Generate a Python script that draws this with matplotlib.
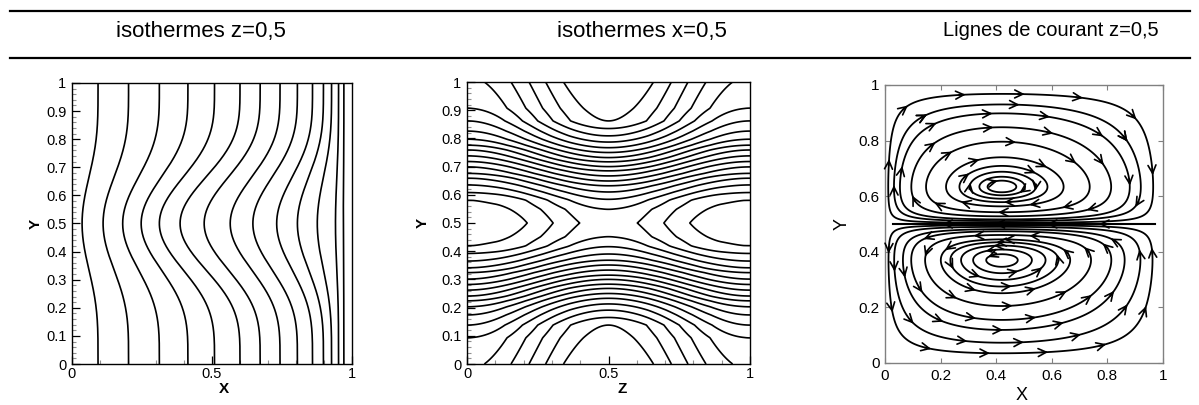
import numpy as np
import matplotlib.pyplot as plt
from matplotlib.lines import Line2D
from matplotlib.ticker import MultipleLocator, FixedLocator

plt.rcParams['font.family'] = ['Liberation Sans', 'DejaVu Sans']

titles = ['isothermes z=0,5', 'isothermes x=0,5', 'Lignes de courant z=0,5']

# isothermes z=0,5 : x of each isotherm on the walls y=0 / y=1 and on the mid-plane y=0.5
iso_z_wall_x = [0.093, 0.202, 0.312, 0.414, 0.509, 0.600, 0.672, 0.743,
                0.805, 0.859, 0.898, 0.927, 0.952, 0.971]
iso_z_mid_x = [0.036, 0.111, 0.181, 0.247, 0.312, 0.386, 0.472, 0.565,
               0.646, 0.731, 0.805, 0.876, 0.941, 0.969]

# isothermes x=0,5 : heights where levels 6..19 cut the wall z=0,
# and where levels 1..16 cut the line z=0.5 (lower half, mirrored above)
iso_x_wall_y = [0.093, 0.138, 0.174, 0.203, 0.224, 0.241, 0.262, 0.282,
                0.301, 0.324, 0.341, 0.365, 0.392, 0.419]
iso_x_mid_y = [0.138, 0.165, 0.191, 0.213, 0.233, 0.250, 0.268, 0.283,
               0.300, 0.315, 0.333, 0.351, 0.368, 0.390, 0.416, 0.451]
iso_x_wall_ends = [5.2, 19.6]     # level on the wall at y=0 and y=0.5
iso_x_mid_ends = [-0.25, 16.5]    # level on z=0.5 at y=0 and y=0.5

# lignes de courant : centres of the two rolls, the line between them,
# and the heights where the drawn streamlines cross x = roll_x (outer side)
roll_x = 0.42
roll_y = [0.37, 0.634]
split_y = 0.5
split_x = [0.03, 0.97]
stream_y_lower = [0.035, 0.073, 0.119, 0.155, 0.205, 0.251, 0.275, 0.299,
                  0.323, 0.346]
stream_y_upper = [0.968, 0.930, 0.898, 0.848, 0.796, 0.740, 0.709, 0.688,
                  0.670, 0.656]


fig = plt.figure(figsize=(11.99, 4.05), dpi=100)
W, H = 1199.0, 405.0


def px_axes(l, t, r, b):
    return fig.add_axes([l / W, 1 - b / H, (r - l) / W, (b - t) / H])


# header of the table
for yl in (11, 58):
    fig.add_artist(Line2D([10 / W, 1190 / W], [1 - yl / H, 1 - yl / H],
                          color='k', lw=1.6, transform=fig.transFigure))
for xc, t, fs in zip((201, 642, 1051), titles, (16, 16, 14.5)):
    fig.text(xc / W, 1 - 31 / H, t, ha='center', va='center', fontsize=fs)


def tecplot_axes(ax, xlabel, xlab_x):
    ax.set_xlim(0, 1)
    ax.set_ylim(0, 1)
    ax.xaxis.set_major_locator(FixedLocator([0, 0.5, 1]))
    ax.xaxis.set_major_formatter(plt.FuncFormatter(lambda v, p: '%g' % v))
    ax.xaxis.set_minor_locator(MultipleLocator(0.1))
    ax.yaxis.set_major_locator(MultipleLocator(0.1))
    ax.yaxis.set_major_formatter(plt.FuncFormatter(lambda v, p: '%g' % v))
    ax.yaxis.set_minor_locator(MultipleLocator(0.02))
    ax.tick_params(which='major', direction='in', length=6, width=0.9,
                   labelsize=10.5, pad=2)
    ax.tick_params(axis='y', which='major', pad=4)
    ax.tick_params(which='minor', direction='in', length=3, width=0.8,
                   color='#909090')
    for s in ax.spines.values():
        s.set_linewidth(1.0)
    ax.set_xlabel(xlabel, fontsize=11, fontweight='bold')
    ax.set_ylabel('Y', fontsize=11, fontweight='bold')
    ax.xaxis.set_label_coords(xlab_x, -0.065)


# ---- isothermes z=0,5
ax1 = px_axes(72, 83, 352, 364)
ys = np.linspace(0, 1, 300)
bend = np.sin(np.pi * ys) ** 4
for xw, xm in zip(iso_z_wall_x, iso_z_mid_x):
    ax1.plot(xw + (xm - xw) * bend, ys, color='k', lw=1.2)
tecplot_axes(ax1, 'X', 0.543)
ax1.yaxis.set_label_coords(-0.105, 0.5)

# ---- isothermes x=0,5
ax2 = px_axes(467, 82, 750, 364)
zg, yg = np.meshgrid(np.linspace(0, 1, 501), np.linspace(0, 1, 501))
yfold = 0.5 - np.abs(yg - 0.5)
dwall = 0.5 - np.abs(zg - 0.5)
lv_wall = np.arange(6, 6 + len(iso_x_wall_y))
lv_mid = np.arange(1, 1 + len(iso_x_mid_y))
T_wall = np.interp(yfold, [0] + iso_x_wall_y + [0.5],
                   [iso_x_wall_ends[0]] + list(lv_wall) + [iso_x_wall_ends[1]])
T_mid = np.interp(yfold, [0] + iso_x_mid_y + [0.5],
                  [iso_x_mid_ends[0]] + list(lv_mid) + [iso_x_mid_ends[1]])
a0 = 0.5 * (1 + np.cos(2 * np.pi * zg))
s = np.clip((0.5 - dwall) / 0.4, 0, 1)
a1 = 3 * s ** 2 - 2 * s ** 3
wy = np.sin(np.pi * yg) ** 16
alpha = (1 - wy) * a0 + wy * a1
T = alpha * T_wall + (1 - alpha) * T_mid
ax2.contour(zg, yg, T, levels=np.arange(1, 20), colors='k', linewidths=1.2)
tecplot_axes(ax2, 'Z', 0.548)
ax2.yaxis.set_label_coords(-0.13, 0.5)

# ---- lignes de courant z=0,5
ax3 = px_axes(885, 85, 1163, 363)
xs = np.linspace(0, 1, 321)
ysg = np.linspace(0, 1, 321)
X, Y = np.meshgrid(xs, ysg)
px_ = np.log(0.5) / np.log(roll_x)
tc_lo = (split_y - roll_y[0]) / split_y
tc_up = (roll_y[1] - split_y) / (1 - split_y)
k_lo = (1 - 2 * tc_lo) / tc_lo ** 2
k_up = (1 - 2 * tc_up) / tc_up ** 2


def stream_fn(x, y):
    f = np.sin(np.pi * np.clip(x, 0, 1) ** px_)
    t_lo = np.clip((split_y - y) / split_y, 0, 1)
    t_up = np.clip((y - split_y) / (1 - split_y), 0, 1)
    g_lo = np.sin(np.pi * np.log1p(k_lo * t_lo) / np.log1p(k_lo))
    g_up = np.sin(np.pi * np.log1p(k_up * t_up) / np.log1p(k_up))
    return f * np.where(y < split_y, g_lo, -g_up)


psi = stream_fn(X, Y)
dpsi_dy, dpsi_dx = np.gradient(psi, ysg, xs)
U, V = dpsi_dy, -dpsi_dx

levels = np.sort(np.concatenate([
    stream_fn(roll_x, np.array(stream_y_lower)),
    stream_fn(roll_x, np.array(stream_y_upper))]))
cs = ax3.contour(X, Y, psi, levels=levels, colors='k', linewidths=1.3,
                 linestyles='solid')

head = '->,head_length=0.45,head_width=0.22'


def arrow_at(ax, x, y):
    i = int(round(np.clip(y, 0, 1) * (len(ysg) - 1)))
    j = int(round(np.clip(x, 0, 1) * (len(xs) - 1)))
    u, v = U[i, j], V[i, j]
    n = np.hypot(u, v)
    if n == 0:
        return
    u, v = 0.012 * u / n, 0.012 * v / n
    ax.annotate('', xy=(x + u, y + v), xytext=(x - u, y - v),
                arrowprops=dict(arrowstyle=head, color='k', lw=1.2,
                                shrinkA=0, shrinkB=0, mutation_scale=13))


step = 0.2
for k, path in enumerate(cs.get_paths()):
    for seg in path.to_polygons(closed_only=False):
        d = np.hypot(*np.diff(seg, axis=0).T)
        arc = np.concatenate([[0], np.cumsum(d)])
        L = arc[-1]
        if L < 0.06:
            continue
        n = max(1, int(L / step))
        for sk in (np.arange(n) + 0.3 + 0.4 * (k % 2)) * L / n:
            pt = seg[min(np.searchsorted(arc, sk), len(seg) - 1)]
            if abs(pt[1] - split_y) < 0.04:
                continue
            arrow_at(ax3, pt[0], pt[1])

# line between the two rolls
ax3.plot(split_x, [split_y, split_y], color='k', lw=1.5)
for xa in np.linspace(split_x[0], split_x[1], 6)[1:-1]:
    ax3.annotate('', xy=(xa - 0.012, split_y), xytext=(xa + 0.012, split_y),
                 arrowprops=dict(arrowstyle=head, color='k', lw=1.2,
                                 shrinkA=0, shrinkB=0, mutation_scale=13))

ax3.set_xlim(0, 1)
ax3.set_ylim(0, 1)
ax3.set_xticks([0, 0.2, 0.4, 0.6, 0.8, 1])
ax3.set_yticks([0, 0.2, 0.4, 0.6, 0.8, 1])
ax3.xaxis.set_major_formatter(plt.FuncFormatter(lambda v, p: '%g' % v))
ax3.yaxis.set_major_formatter(plt.FuncFormatter(lambda v, p: '%g' % v))
ax3.tick_params(direction='in', length=3.5, width=0.8, color='#808080',
                top=True, right=True, labelsize=11, pad=4)
for sp in ax3.spines.values():
    sp.set_color('#808080')
    sp.set_linewidth(1.0)
ax3.set_xlabel('X', fontsize=13)
ax3.set_ylabel('Y', fontsize=13)
ax3.xaxis.set_label_coords(0.493, -0.085)
ax3.yaxis.set_label_coords(-0.125, 0.5)

fig.savefig('out.png', dpi=100)
